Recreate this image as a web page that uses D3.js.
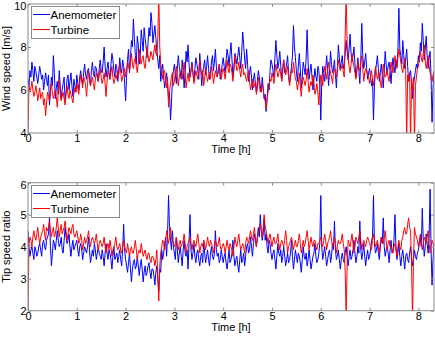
<!DOCTYPE html>
<html>
<head>
<meta charset="utf-8">
<script src="https://cdn.jsdelivr.net/npm/d3@7"></script>
<style>
  body { margin: 0; background: #fff; }
  text { font-family: "Liberation Sans", Arial, sans-serif; fill: #000; }
</style>
</head>
<body>
<svg id="lacaja" width="435" height="337"></svg>
<script>
// Datos (una muestra cada dt horas, una fila por hora)
const dt = 0.02;

const vientoAnem = [
  6.5,6.2,6.9,6.6,7.3,6.9,6.4,7.1,6.9,6.6,6.3,6.7,7.1,6.8,6.5,6.7,6.0,6.4,6.8,6.5,6.2,6.7,5.3,5.9,6.6,6.2,7.6,6.8,5.6,6.1,6.4,5.8,6.9,6.2,5.6,6.0,6.3,6.6,5.5,5.9,6.5,6.7,6.0,6.4,6.8,6.2,5.7,6.5,6.2,5.9,
  6.7,6.3,6.0,6.6,6.9,6.5,6.3,6.8,7.2,6.7,6.5,6.9,7.0,6.6,6.2,6.9,7.3,6.8,6.6,7.1,7.0,6.7,6.4,7.0,7.4,6.9,6.8,7.3,8.0,7.1,6.6,7.0,7.3,6.8,6.5,7.2,7.7,7.4,6.9,6.6,7.2,7.0,6.4,6.9,7.5,7.0,6.8,7.4,7.1,6.3,
  5.5,6.6,7.4,7.9,6.8,7.5,8.3,8.0,9.3,8.4,7.6,7.2,8.5,8.1,7.2,7.6,8.8,8.3,7.8,8.9,8.4,8.0,7.5,8.2,8.9,8.5,9.6,9.1,8.2,8.6,9.0,8.4,7.8,7.4,7.0,7.6,6.4,6.9,7.2,6.6,6.1,6.4,6.8,6.2,5.6,5.9,4.6,5.4,6.5,6.9,
  7.2,6.7,6.3,7.0,7.6,7.1,6.8,6.5,7.4,6.9,6.1,6.8,7.8,7.3,8.1,7.2,6.6,6.9,7.3,6.8,6.4,7.0,7.5,7.2,6.9,6.5,7.7,7.0,6.2,6.8,7.1,7.4,6.7,7.1,7.6,7.0,6.5,6.9,7.3,7.6,6.9,7.3,7.9,7.1,6.6,6.9,7.2,6.5,6.8,7.2,
  7.5,7.1,6.8,7.4,7.9,7.6,7.1,7.7,8.2,7.4,6.6,7.1,7.7,7.5,7.2,7.6,8.0,7.5,7.0,7.8,8.7,8.1,7.4,7.0,7.9,7.2,6.4,6.8,7.1,6.6,6.0,6.5,6.8,6.3,5.9,6.4,6.9,6.6,6.2,5.9,6.6,6.1,5.6,5.8,5.0,5.6,6.3,6.0,6.9,7.4,
  7.2,6.9,6.6,7.5,8.3,7.6,7.0,7.3,7.8,7.1,6.5,7.0,7.4,6.8,6.9,7.2,7.6,6.8,6.3,6.7,7.1,7.6,9.0,8.0,7.5,6.9,6.4,7.1,7.7,7.0,6.1,6.6,7.3,7.0,6.7,7.5,8.8,7.3,6.5,6.9,7.2,6.6,6.0,6.5,7.0,6.6,6.4,7.1,6.9,6.2,
  4.6,6.3,7.1,6.8,6.4,6.9,7.6,7.0,6.2,6.9,7.8,7.2,6.8,7.0,7.4,6.7,6.1,7.0,8.1,7.5,7.0,7.3,7.6,7.0,7.2,7.7,8.3,7.8,7.4,7.9,8.6,7.7,7.3,7.6,8.0,7.2,6.6,7.0,7.5,6.9,6.3,7.4,9.1,7.6,7.0,7.3,7.7,7.0,6.5,6.8,
  7.0,6.6,6.2,6.5,4.6,6.2,6.9,7.2,7.6,7.0,6.4,6.8,7.2,6.7,6.1,6.9,7.8,7.2,6.7,7.1,7.3,6.9,6.3,7.0,7.5,7.1,6.8,7.4,7.1,7.8,9.8,7.9,7.6,7.2,8.3,7.6,7.0,7.4,7.9,7.1,6.4,6.7,6.9,6.3,5.6,6.2,6.6,6.9,7.2,7.0,
  7.6,7.3,8.2,7.8,9.1,8.3,7.4,7.9,8.5,7.6,7.0,7.5,7.8,6.6,4.5,6.1,6.8
];

const vientoTurb = [
  4.0,6.2,5.9,6.1,6.4,6.0,5.7,5.9,6.2,5.9,5.5,5.8,6.1,5.6,5.8,5.9,5.3,5.6,4.8,5.4,5.9,5.7,5.5,6.0,6.3,5.9,5.6,5.8,6.0,5.7,5.2,5.9,6.5,5.8,5.5,5.7,5.9,5.6,5.3,5.8,6.2,5.8,5.6,6.0,5.8,5.6,5.4,5.8,6.1,5.9,
  6.3,6.1,5.8,6.3,6.7,6.4,6.1,6.6,6.5,6.2,5.7,6.3,6.9,6.5,6.2,6.4,6.6,6.3,6.0,6.5,6.8,6.6,6.4,6.7,7.0,6.6,6.3,6.5,6.8,6.3,5.7,6.4,6.9,6.7,6.5,6.8,7.1,6.6,6.3,6.5,6.7,6.5,6.9,6.7,7.2,6.8,6.4,6.6,6.8,7.0,
  6.6,7.0,7.3,7.1,6.9,7.3,7.7,7.2,7.0,7.4,7.5,7.1,6.8,7.3,7.9,7.4,7.2,7.5,7.6,7.2,7.0,7.5,8.0,7.6,7.3,7.5,7.8,7.6,7.4,7.8,8.1,7.7,7.6,8.4,10.4,8.0,7.2,7.0,6.5,6.8,6.9,6.4,6.1,6.6,5.2,5.9,6.3,6.6,6.8,6.2,
  6.4,6.8,7.1,6.6,6.2,6.6,6.9,6.7,6.5,6.9,7.3,6.7,6.1,6.5,6.8,6.4,6.6,6.9,7.2,6.8,6.3,6.6,6.9,6.7,6.5,6.9,7.4,7.0,6.7,6.9,6.2,6.6,7.0,6.7,6.4,6.6,6.8,6.5,7.1,6.8,6.3,6.6,6.9,6.7,6.6,6.9,7.2,6.8,6.5,6.8,
  7.0,6.8,6.5,7.0,7.4,7.0,6.8,7.2,7.1,6.8,6.4,6.9,7.6,7.2,6.9,7.0,7.3,6.9,6.6,7.0,7.2,6.7,6.8,6.6,6.4,6.7,6.9,6.4,6.0,6.3,6.5,6.1,6.2,6.4,5.8,6.1,6.6,6.2,5.9,6.0,6.3,6.0,5.6,5.5,5.1,5.6,5.9,6.2,6.5,6.4,
  6.8,6.6,6.3,6.8,7.2,6.9,6.6,6.8,7.0,6.7,6.4,6.9,7.4,7.0,6.7,6.9,7.1,6.6,6.2,6.6,6.9,6.8,7.3,6.9,6.5,6.4,6.0,6.3,6.8,6.2,5.7,6.3,6.6,6.4,6.2,6.5,7.0,6.4,5.9,6.2,6.4,6.2,6.7,6.3,5.8,6.0,6.3,5.9,5.3,6.1,
  6.7,6.5,6.2,6.7,7.1,6.8,6.5,6.9,7.3,7.0,6.8,6.6,6.3,6.8,7.0,6.8,6.6,7.0,7.4,7.1,6.9,7.0,7.2,6.9,6.6,8.6,10.4,8.2,7.5,7.1,6.8,7.2,7.7,7.3,7.1,6.8,6.5,6.9,7.3,7.0,6.9,7.3,7.6,7.0,6.4,6.8,7.0,6.9,6.7,6.6,
  6.3,6.6,6.9,6.5,6.2,6.7,7.1,6.8,6.5,6.7,6.8,6.4,6.1,6.6,7.2,6.8,6.6,6.7,6.9,6.6,6.4,6.9,7.3,7.0,6.8,7.2,7.6,7.3,7.0,7.5,7.9,7.6,7.3,7.0,6.8,7.2,7.5,6.9,3.5,6.7,6.4,6.8,3.5,6.5,6.0,6.6,3.5,6.2,6.6,7.0,
  7.1,7.4,7.8,7.5,7.3,7.7,8.1,7.4,7.0,7.3,7.6,7.1,6.8,6.6,6.4,6.7,6.9
];

const tsrAnem = [
  4.5,4.0,3.7,3.9,4.0,3.8,3.6,4.0,3.9,3.7,3.8,4.0,4.1,3.9,3.7,4.1,4.2,4.0,3.9,4.2,4.3,4.4,4.9,4.0,3.4,3.8,4.2,4.1,3.9,4.2,4.5,4.2,4.0,4.1,4.3,3.9,3.8,4.2,4.6,4.3,4.1,4.2,4.4,4.0,3.7,4.0,4.2,3.9,4.0,4.1,
  4.2,3.9,3.7,4.0,4.1,3.9,3.6,3.8,4.0,3.9,3.8,4.0,4.3,3.9,3.5,3.7,3.9,3.7,4.1,3.9,3.6,3.8,4.0,3.8,3.7,3.6,3.9,3.7,3.4,3.8,4.1,3.8,3.6,3.9,3.8,3.6,3.3,3.7,4.0,3.6,3.7,3.8,3.5,3.7,3.9,3.6,3.4,3.9,4.7,3.9,
  3.6,3.4,3.2,3.5,3.8,3.3,2.9,3.3,3.5,3.6,3.3,3.4,3.7,3.4,3.1,3.4,3.6,3.3,2.9,3.2,3.4,3.1,3.2,3.4,3.5,3.2,3.0,3.3,3.3,3.1,2.8,3.2,3.4,3.0,2.6,3.3,3.2,3.9,3.6,3.8,4.1,4.3,3.7,4.4,5.6,4.6,4.2,3.9,4.5,4.0,
  3.8,3.6,4.3,3.9,3.5,3.8,4.0,3.7,3.4,3.9,4.2,3.8,3.7,3.9,3.3,4.1,5.0,3.9,3.6,3.8,4.1,3.7,3.5,3.8,3.9,3.6,3.4,3.7,3.8,3.5,4.2,3.8,3.5,3.7,3.9,3.6,3.4,3.8,4.0,3.7,3.6,3.8,4.5,3.9,3.7,3.8,3.5,3.6,3.9,3.7,
  3.5,3.7,3.8,3.5,3.3,3.6,3.9,3.5,3.6,3.8,4.2,3.7,3.4,3.6,3.7,3.4,3.2,3.6,3.9,3.5,3.6,3.8,3.4,3.7,4.0,4.1,3.8,3.9,4.3,4.0,3.7,4.1,4.4,4.2,4.0,4.3,4.6,4.3,5.0,4.5,4.2,4.4,4.9,4.2,4.4,4.0,3.8,4.2,4.1,3.8,
  3.6,3.8,3.9,3.6,3.3,3.7,4.1,3.8,3.7,3.9,3.5,3.7,4.0,3.7,3.4,3.6,3.8,3.5,3.6,3.8,4.2,3.7,3.3,3.6,3.9,3.7,3.5,3.8,3.7,3.5,3.2,3.6,4.0,3.7,3.6,3.8,3.4,3.6,3.9,3.6,3.3,3.5,3.7,3.8,4.1,3.7,3.5,3.6,3.8,4.1,
  5.6,4.0,3.6,3.8,4.0,3.7,3.4,3.6,3.8,3.9,3.5,3.7,4.1,3.9,4.8,3.9,3.6,3.7,3.9,3.6,3.3,3.6,3.8,3.6,3.5,3.8,4.0,3.7,3.4,3.7,3.9,3.6,3.7,3.9,4.2,3.8,3.5,3.7,4.0,3.8,4.8,3.9,3.6,3.8,4.1,3.7,3.4,3.7,3.9,3.6,
  3.7,3.9,4.2,4.3,5.6,4.1,3.8,3.9,4.1,3.8,3.6,4.0,4.3,4.1,4.9,4.0,3.7,3.9,4.0,3.8,3.5,3.9,4.2,3.8,3.9,4.2,5.0,4.0,3.6,3.8,4.1,3.7,3.4,3.7,3.9,3.6,3.3,3.7,3.8,3.6,3.5,3.8,4.0,3.7,3.4,3.6,3.9,3.7,3.6,3.8,
  3.9,4.1,4.3,4.0,5.2,4.2,3.7,4.0,4.4,4.1,3.8,4.3,5.8,3.9,2.8,3.6,4.1
];

const tsrTurb = [
  2.0,4.1,4.3,4.2,4.0,4.3,4.5,4.3,4.2,4.4,4.6,4.3,4.1,4.3,4.4,4.5,4.7,4.4,4.2,4.6,4.5,4.6,4.8,4.5,4.3,4.5,4.6,4.3,4.4,4.6,4.9,4.6,4.3,4.5,4.7,4.4,4.5,4.6,4.8,4.5,4.2,4.4,4.6,4.5,4.4,4.6,4.7,4.4,4.3,4.4,
  4.5,4.3,4.1,4.2,4.4,4.2,3.9,4.1,4.3,4.1,4.2,4.3,4.5,4.2,4.0,4.2,4.3,4.2,4.1,4.2,4.4,4.1,3.9,4.1,4.2,4.1,4.0,4.1,4.3,4.0,3.8,4.0,4.1,3.9,4.2,4.0,3.7,3.9,4.0,4.1,4.3,4.0,3.9,4.0,4.1,3.9,3.8,4.0,4.2,4.0,
  3.9,3.8,4.1,3.9,3.7,3.9,4.0,3.8,3.8,4.0,4.2,3.9,3.6,3.8,3.9,3.8,4.1,3.9,3.7,3.8,3.9,3.7,3.6,3.8,3.8,3.6,3.5,3.7,3.7,3.6,3.4,3.6,3.9,3.1,2.3,3.4,3.8,4.0,4.2,4.1,3.9,4.2,4.5,4.3,4.1,4.3,4.6,4.3,4.2,4.1,
  4.0,4.1,4.3,4.0,3.9,4.1,4.2,4.0,4.1,4.2,4.4,4.1,3.8,4.0,4.1,4.2,4.3,4.1,3.9,4.1,4.2,4.1,4.0,4.2,4.4,4.1,3.8,4.0,4.1,4.0,4.2,4.1,3.9,4.1,4.3,4.1,4.0,4.2,4.1,4.0,3.8,4.0,4.2,4.1,4.0,4.1,4.3,4.0,3.9,4.0,
  4.1,4.0,3.8,4.0,4.2,4.0,3.9,4.1,4.0,3.9,3.7,4.0,4.3,4.1,4.0,4.2,4.4,4.1,3.9,4.0,4.1,4.0,3.8,4.1,4.3,4.2,4.1,4.3,4.5,4.3,4.2,4.4,4.6,4.3,4.0,4.3,4.4,4.5,4.7,4.5,4.3,4.6,5.0,4.6,4.5,4.3,4.1,4.3,4.4,4.2,
  4.0,4.2,4.3,4.1,4.1,4.2,4.4,4.1,3.9,4.1,4.2,4.1,4.0,4.2,4.5,4.2,3.8,4.0,4.1,4.2,4.3,4.1,3.9,4.1,4.2,4.0,4.0,4.2,4.4,4.1,3.8,4.0,4.2,4.0,4.1,4.3,4.5,4.2,3.9,4.1,4.3,4.1,4.0,4.2,4.2,4.0,3.9,4.1,4.1,4.2,
  4.3,4.1,4.0,4.2,4.4,4.2,3.9,4.1,4.2,4.3,4.5,4.2,4.0,4.1,4.3,4.1,3.8,4.0,4.2,4.1,4.1,4.2,4.4,4.1,3.9,3.2,1.8,3.4,4.2,4.1,4.0,4.2,4.4,4.1,3.8,4.0,4.3,4.2,4.1,4.3,4.5,4.2,3.9,4.1,4.2,4.1,4.0,4.2,4.3,4.2,
  4.1,4.0,3.9,4.2,4.4,4.2,4.0,4.1,4.2,4.0,3.8,4.1,4.3,4.2,4.1,4.3,4.5,4.2,3.9,4.1,4.2,4.0,4.0,3.9,3.8,4.0,4.1,3.9,3.7,4.0,4.2,4.0,3.9,4.2,4.3,4.5,4.6,4.4,4.4,4.7,4.9,4.6,4.5,3.4,1.8,3.6,4.6,4.4,4.3,4.2,
  4.0,4.2,4.4,4.1,3.9,4.1,4.3,4.2,4.1,4.3,4.5,4.1,3.8,4.0,4.2,4.1,4.0
];

const ticksX = [0, 1, 2, 3, 4, 5, 6, 7, 8];
const ticksViento = [4, 6, 8, 10];
const ticksTsr = [2, 3, 4, 5, 6];
const nombres = ["Anemometer", "Turbine"];
const colores = ["#0000ff", "#ff0000"];
const gris = "#8c8c8c";

const svg = d3.select("#lacaja");
const x = d3.scaleLinear().domain([0, 8.32]).range([28, 434]);

function panel(id, top, bottom, dominio, ticksY, datos, etiquetaY) {
  const y = d3.scaleLinear().domain(dominio).range([bottom, top]);
  const g = svg.append("g");

  svg.append("clipPath").attr("id", id)
    .append("rect")
      .attr("x", x.range()[0]).attr("y", top)
      .attr("width", x.range()[1] - x.range()[0]).attr("height", bottom - top);

  // series: primero anemometro, luego turbina encima
  const linea = d3.line()
    .x((d, i) => x(i * dt))
    .y(d => y(d));

  datos.forEach((serie, k) => {
    g.append("path")
      .datum(serie)
      .attr("clip-path", `url(#${id})`)
      .attr("fill", "none")
      .attr("stroke", colores[k])
      .attr("stroke-width", 1)
      .attr("d", linea);
  });

  // ejes con ticks hacia adentro (estilo caja)
  const ejes = [
    [d3.axisBottom(x).tickValues(ticksX).tickFormat(d3.format("d")).tickPadding(1), `translate(0,${bottom})`, true, false],
    [d3.axisTop(x).tickValues(ticksX), `translate(0,${top})`, false, false],
    [d3.axisLeft(y).tickValues(ticksY).tickFormat(d3.format("d")).tickPadding(1.5), `translate(${x.range()[0]},0)`, true, true],
    [d3.axisRight(y).tickValues(ticksY), `translate(${x.range()[1]},0)`, false, false]
  ];
  ejes.forEach(([eje, tr, conTexto, esY]) => {
    const a = g.append("g").attr("transform", tr)
      .call(eje.tickSizeInner(-3).tickSizeOuter(0));
    a.select(".domain").remove();
    a.selectAll("line").attr("stroke", gris);
    a.selectAll("text")
      .attr("font-size", 11)
      .attr("font-family", "Liberation Sans, Arial, sans-serif")
      .style("display", conTexto ? null : "none");
    // la etiqueta de arriba del eje y baja un poco para que no se corte
    if (esY) {
      a.selectAll(".tick text")
        .filter(d => d === dominio[1])
        .attr("dy", "0.5em");
    }
  });

  g.append("rect")
    .attr("x", x.range()[0]).attr("y", top)
    .attr("width", x.range()[1] - x.range()[0]).attr("height", bottom - top)
    .attr("fill", "none").attr("stroke", gris).attr("stroke-width", 1);

  g.append("text")
    .attr("x", (x.range()[0] + x.range()[1]) / 2)
    .attr("y", bottom + 20)
    .attr("text-anchor", "middle")
    .attr("font-size", 11)
    .text("Time [h]");

  g.append("text")
    .attr("transform", `translate(10,${(top + bottom) / 2}) rotate(-90)`)
    .attr("text-anchor", "middle")
    .attr("font-size", 11)
    .text(etiquetaY);

  // leyenda
  const ley = g.append("g").attr("transform", `translate(31,${Math.round(top + 2)})`);
  ley.append("rect")
    .attr("x", 0.5).attr("y", 0.5)
    .attr("width", 88).attr("height", 32)
    .attr("fill", "#fff").attr("stroke", gris);
  nombres.forEach((n, k) => {
    const yy = 8 + k * 15;
    ley.append("rect")
      .attr("x", 2).attr("y", yy).attr("width", 17).attr("height", 1)
      .attr("fill", colores[k]);
    ley.append("text")
      .attr("x", 19.5).attr("y", yy + 4.5)
      .attr("font-size", 11.5)
      .text(n);
  });
}

panel("clipA", 4, 133, [4, 10], ticksViento, [vientoAnem, vientoTurb], "Wind speed [m/s]");
panel("clipB", 182.7, 310.7, [2, 6], ticksTsr, [tsrAnem, tsrTurb], "Tip speed ratio");
</script>
</body>
</html>
